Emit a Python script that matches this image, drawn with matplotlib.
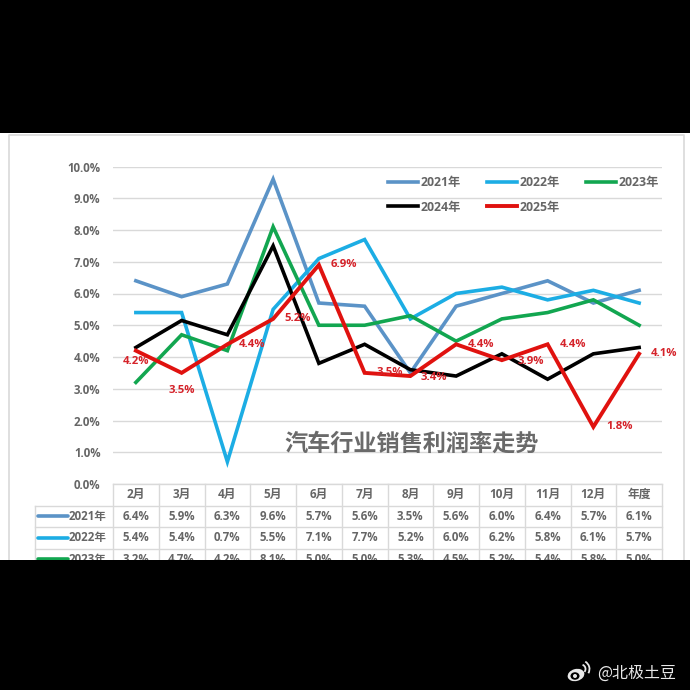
import matplotlib
matplotlib.use('Agg')
import matplotlib.pyplot as plt
from matplotlib.patches import Rectangle, Ellipse, Arc

plt.rcParams['font.family'] = ['Open Sans', 'Noto Sans CJK SC', 'DejaVu Sans']

months = ['2月', '3月', '4月', '5月', '6月', '7月', '8月', '9月', '10月', '11月', '12月', '年度']
y_ticks = [0, 1, 2, 3, 4, 5, 6, 7, 8, 9, 10]

rate_2021 = [6.4, 5.9, 6.3, 9.6, 5.7, 5.6, 3.5, 5.6, 6.0, 6.4, 5.7, 6.1]
rate_2022 = [5.4, 5.4, 0.7, 5.5, 7.1, 7.7, 5.2, 6.0, 6.2, 5.8, 6.1, 5.7]
rate_2023 = [3.2, 4.7, 4.2, 8.1, 5.0, 5.0, 5.3, 4.5, 5.2, 5.4, 5.8, 5.0]
rate_2024 = [4.3, 5.15, 4.7, 7.5, 3.8, 4.4, 3.6, 3.4, 4.1, 3.3, 4.1, 4.3]
rate_2025 = [4.2, 3.5, 4.4, 5.2, 6.9, 3.5, 3.4, 4.4, 3.9, 4.4, 1.8, 4.1]

# label offsets for the 2025 series, in points from each marker position
label_offsets = [(0, -8), (0, -13), (18, 0), (18, 0), (18, 0), (18, 0),
                 (17, -1), (18, 0), (21, -1), (18, 0), (19, 0), (18, 0)]

TEXT_GREY = '#666666'
GRID_GREY = '#D9D9D9'
RED_TEXT = '#D5232A'
C_2021 = '#5B93C7'
C_2022 = '#1CADE4'
C_2023 = '#12A650'
C_2024 = '#000000'
C_2025 = '#E0120F'

fig = plt.figure(figsize=(6.9, 6.9), dpi=100, facecolor='black')

# backdrop in pixel coordinates: white sheet, frame and the table
bg = fig.add_axes([0, 0, 1, 1], zorder=0)
bg.set_xlim(0, 690)
bg.set_ylim(690, 0)
bg.axis('off')
bg.add_patch(Rectangle((0, 133), 690, 427, facecolor='white', edgecolor='none', zorder=0))
bg.plot([9, 9, 684, 684], [560, 135, 135, 560], color=GRID_GREY, lw=1.2, zorder=1)

col_left = 113
col_w = 549 / 12
row_top = 484
row_h = 21.5

# only the first three data rows are visible above the bottom band
table_rows = [('2021年', rate_2021, C_2021), ('2022年', rate_2022, C_2022), ('2023年', rate_2023, C_2023)]

for i, m in enumerate(months):
    bg.text(col_left + (i + 0.5) * col_w, row_top + row_h / 2, m, ha='center', va='center',
            fontsize=8.5, color=TEXT_GREY, fontweight='bold', zorder=2)
for i in range(13):
    x = col_left + i * col_w
    bg.plot([x, x], [row_top, row_top + 4 * row_h], color=GRID_GREY, lw=1, zorder=1)
for r in range(5):
    y = row_top + r * row_h
    x0 = col_left if r == 0 else 35
    bg.plot([x0, 662], [y, y], color=GRID_GREY, lw=1, zorder=1)
bg.plot([35, 35], [row_top + row_h, row_top + 4 * row_h], color=GRID_GREY, lw=1, zorder=1)

for r, (name, vals, color) in enumerate(table_rows):
    yc = row_top + (r + 1.5) * row_h
    bg.plot([38, 68], [yc, yc], color=color, lw=2.6, solid_capstyle='round', zorder=2)
    bg.text(69, yc, name, ha='left', va='center', fontsize=8.3, color=TEXT_GREY, fontweight='bold', zorder=2)
    for i, v in enumerate(vals):
        bg.text(col_left + (i + 0.5) * col_w, yc, f'{v:.1f}%', ha='center', va='center',
                fontsize=8.3, color=TEXT_GREY, fontweight='bold', zorder=2)

# bottom band hides the rest of the table
bg.add_patch(Rectangle((0, 560), 690, 130, facecolor='black', edgecolor='none', zorder=5))

# weibo mark and handle
bg.add_patch(Ellipse((576, 675), 17, 12, angle=-15, facecolor='#E8E8E8', edgecolor='none', zorder=6))
bg.add_patch(Ellipse((575, 676), 9, 7.5, facecolor='black', edgecolor='none', zorder=7))
bg.add_patch(Ellipse((575, 676), 4, 4, facecolor='#E8E8E8', edgecolor='none', zorder=8))
bg.add_patch(Arc((581, 669), 9, 9, theta1=-70, theta2=40, color='#E8E8E8', lw=1.3, zorder=6))
bg.add_patch(Arc((581, 669), 17, 17, theta1=-60, theta2=30, color='#E8E8E8', lw=1.3, zorder=6))
bg.text(597, 673.5, '@北极土豆', ha='left', va='center', fontsize=11.5, color='#E8E8E8',
        family=['Noto Sans CJK SC', 'DejaVu Sans'], zorder=6)

# main line chart
ax = fig.add_axes([113 / 690, (690 - 484) / 690, 549 / 690, 317.5 / 690], zorder=1)
ax.patch.set_alpha(0)
ax.set_xlim(0, 12)
ax.set_ylim(0, 10)
xs = [i + 0.5 for i in range(12)]

ax.plot(xs, rate_2021, color=C_2021, lw=2.6, label='2021年', solid_joinstyle='miter')
ax.plot(xs, rate_2022, color=C_2022, lw=2.6, label='2022年', solid_joinstyle='miter')
ax.plot(xs, rate_2023, color=C_2023, lw=2.6, label='2023年', solid_joinstyle='miter')
ax.plot(xs, rate_2024, color=C_2024, lw=2.6, label='2024年', solid_joinstyle='miter')
ax.plot(xs, rate_2025, color=C_2025, lw=2.8, label='2025年', solid_joinstyle='miter')

for x, v, off in zip(xs, rate_2025, label_offsets):
    ax.annotate(f'{v:.1f}%', (x, v), xytext=off, textcoords='offset points', ha='center', va='center',
                fontsize=8.2, color=RED_TEXT, fontweight='bold', zorder=6)

ax.set_yticks(y_ticks)
ax.set_yticklabels([f'{t:.1f}%' for t in y_ticks], fontsize=8.3, color=TEXT_GREY, fontweight='bold')
ax.set_xticks([])
ax.tick_params(axis='y', length=0, pad=9)
ax.grid(axis='y', color=GRID_GREY, lw=1)
ax.set_axisbelow(True)
for s in ax.spines.values():
    s.set_visible(False)

ax.text(0.5445, 0.125, '汽车行业销售利润率走势', transform=ax.transAxes, ha='center', va='center',
        fontsize=16.7, color='#6A6A6A', fontweight='bold', family=['Noto Sans CJK SC', 'DejaVu Sans'])

# columns fill top to bottom, so the handles go in column order
h, l = ax.get_legend_handles_labels()
order = [0, 3, 1, 4, 2]
leg = ax.legend([h[i] for i in order], [l[i] for i in order], ncol=3, frameon=False,
                loc='upper left', bbox_to_anchor=(275 / 549, 0.97), borderpad=0, borderaxespad=0,
                handlelength=2.45, handletextpad=0.2, columnspacing=2.15, labelspacing=0.95,
                prop={'size': 8.8, 'weight': 'bold'})
for t in leg.get_texts():
    t.set_color(TEXT_GREY)

fig.savefig('out.png', dpi=100, facecolor='black')
